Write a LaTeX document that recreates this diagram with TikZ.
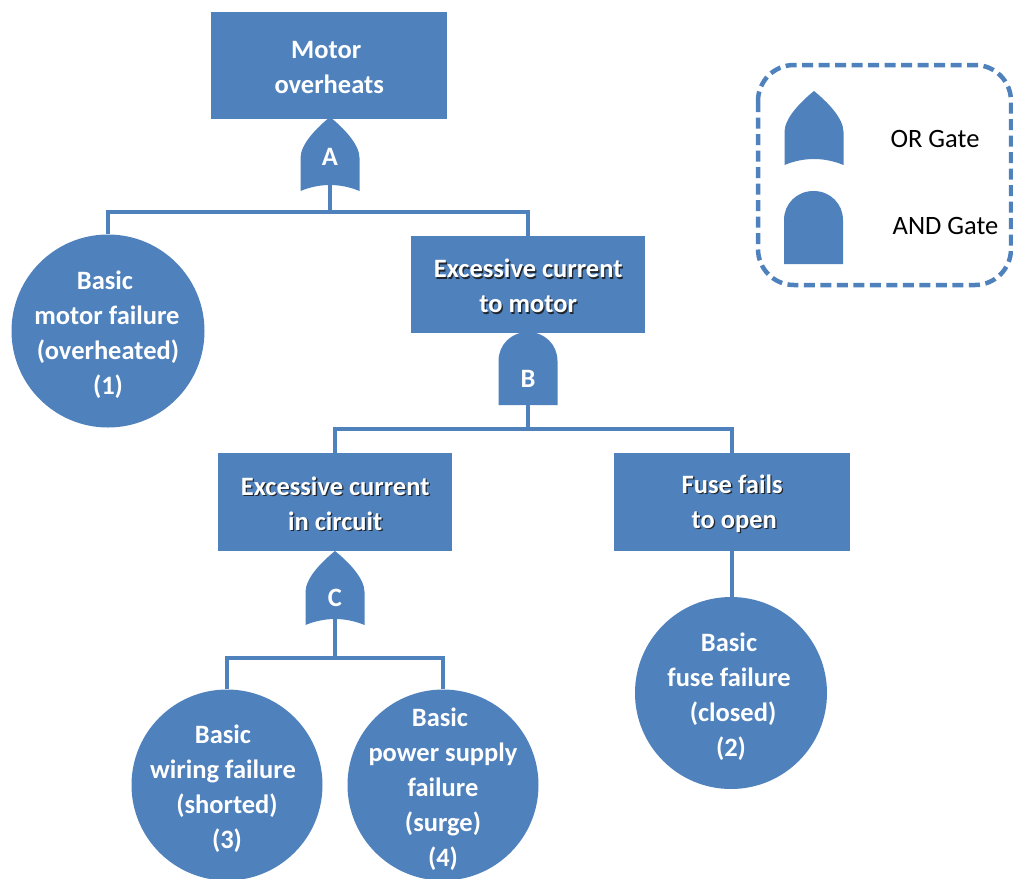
\documentclass[tikz,border=0pt]{standalone}
\usepackage{fontspec}
\setmainfont{Carlito}
\definecolor{gateblue}{HTML}{4F81BD}
\definecolor{shadowc}{HTML}{20262E}
\newcommand\shl[1]{\makebox[0pt]{\makebox[0pt]{\raisebox{-1.4pt}{\hspace{2.6pt}\textcolor{shadowc}{#1}}}\makebox[0pt]{#1}}}
\newcommand\off[2]{\kern#1\relax#2\kern-#1\relax}
\tikzset{
  x=1pt,y=-1pt,
  wire/.style={draw=gateblue,line width=4pt},
  label text/.style={text=white,font=\fontsize{26.5}{35}\selectfont\bfseries,align=center,inner sep=0pt},
  boxnode/.style={rectangle,fill=gateblue,anchor=north west,inner sep=0pt},
  disc/.style={circle,fill=gateblue,minimum size=#1,inner sep=0pt},
  inner text/.style={label={[label text,yshift=-2pt]center:{#1}}},
  disc text/.style={label={[label text,yshift=-4pt]center:{#1}}},
  gateletter/.style={text=white,font=\fontsize{26.5}{28}\selectfont\bfseries,inner sep=0pt},
  legendtext/.style={text=black,font=\fontsize{26.5}{28}\selectfont,inner sep=0pt},
  orgate/.pic={
    \fill[gateblue] (0,0) .. controls (13,10.5) and (29.5,27) .. (29.5,41) -- (29.5,74)
      .. controls (10,66) and (-10,66) .. (-29.5,74) -- (-29.5,41)
      .. controls (-29.5,27) and (-13,10.5) .. (0,0) -- cycle;
    \coordinate (-out) at (0,68);
  },
  andgate/.pic={
    \fill[gateblue] (0,0) .. controls (17,0) and (29.5,13) .. (29.5,29) -- (29.5,73)
      -- (-29.5,73) -- (-29.5,29) .. controls (-29.5,13) and (-17,0) .. (0,0) -- cycle;
    \coordinate (-out) at (0,71);
  },
}
\begin{document}
\begin{tikzpicture}
\useasboundingbox (0,0) rectangle (1013,879);
% boxes
\node[boxnode,minimum width=236pt,minimum height=107pt,inner text={\off{-3pt}{Motor}\\overheats}] (top) at (211,12) {};
\node[boxnode,minimum width=234pt,minimum height=97pt,inner text={\shl{Excessive current}\\\shl{to motor}}] (cur) at (411,236) {};
\node[boxnode,minimum width=234pt,minimum height=98pt,inner text={\shl{Excessive current}\\\shl{in circuit}}] (cir) at (218,453) {};
\node[boxnode,minimum width=236pt,minimum height=98pt,inner text={\shl{Fuse fails}\\\off{2pt}{\shl{to open}}}] (fuse) at (614,453) {};
% gates
\pic (gA) at (330,117) {orgate};
\pic (gB) at (528,332) {andgate};
\pic (gC) at (335,551) {orgate};
\node[gateletter] (la) at (330,157) {A};
\node[gateletter] (lb) at (528,379) {B};
\node[gateletter] (lc) at (335,598) {C};
% basic events
\node[disc=193pt,disc text={\off{-3pt}{Basic}\\\off{-1pt}{motor failure}\\(overheated)\\(1)}] (e1) at (108,331) {};
\node[disc=192pt,disc text={\off{-2pt}{Basic}\\\off{-2pt}{fuse failure}\\\off{2pt}{(closed)}\\(2)}] (e2) at (731,693) {};
\node[disc=191pt,disc text={\off{-4pt}{Basic}\\\off{-4pt}{wiring failure}\\(shorted)\\(3)}] (e3) at (227,785) {};
\node[disc=191pt,disc text={\off{-3pt}{Basic}\\power supply\\failure\\(surge)\\(4)}] (e4) at (443,785) {};
% connectors
\coordinate (busA) at (330,212);
\coordinate (busB) at (528,429);
\coordinate (busC) at (335,658);
\draw[wire] (gA-out) -- (busA);
\draw[wire] (e1.north) |- (busA);
\draw[wire] (cur.north) |- (busA);
\draw[wire] (gB-out) -- (busB);
\draw[wire] (cir.north) |- (busB);
\draw[wire] (fuse.south) -- (e2.north -| fuse.south);
\draw[wire] (fuse.north) |- (busB);
\draw[wire] (gC-out) -- (busC);
\draw[wire] (e3.north) |- (busC);
\draw[wire] (e4.north) |- (busC);
% legend
\draw[gateblue,line width=4.5pt,dash pattern=on 11pt off 5.5pt,rounded corners=36pt] (758,65) rectangle (1011,285);
\pic (lor) at (814,91) {orgate};
\pic (land) at (813.5,191) {andgate};
\node[legendtext] (tor) at (935,139) {OR Gate};
\node[legendtext] (tand) at (945.5,226) {AND Gate};
\end{tikzpicture}
\end{document}
